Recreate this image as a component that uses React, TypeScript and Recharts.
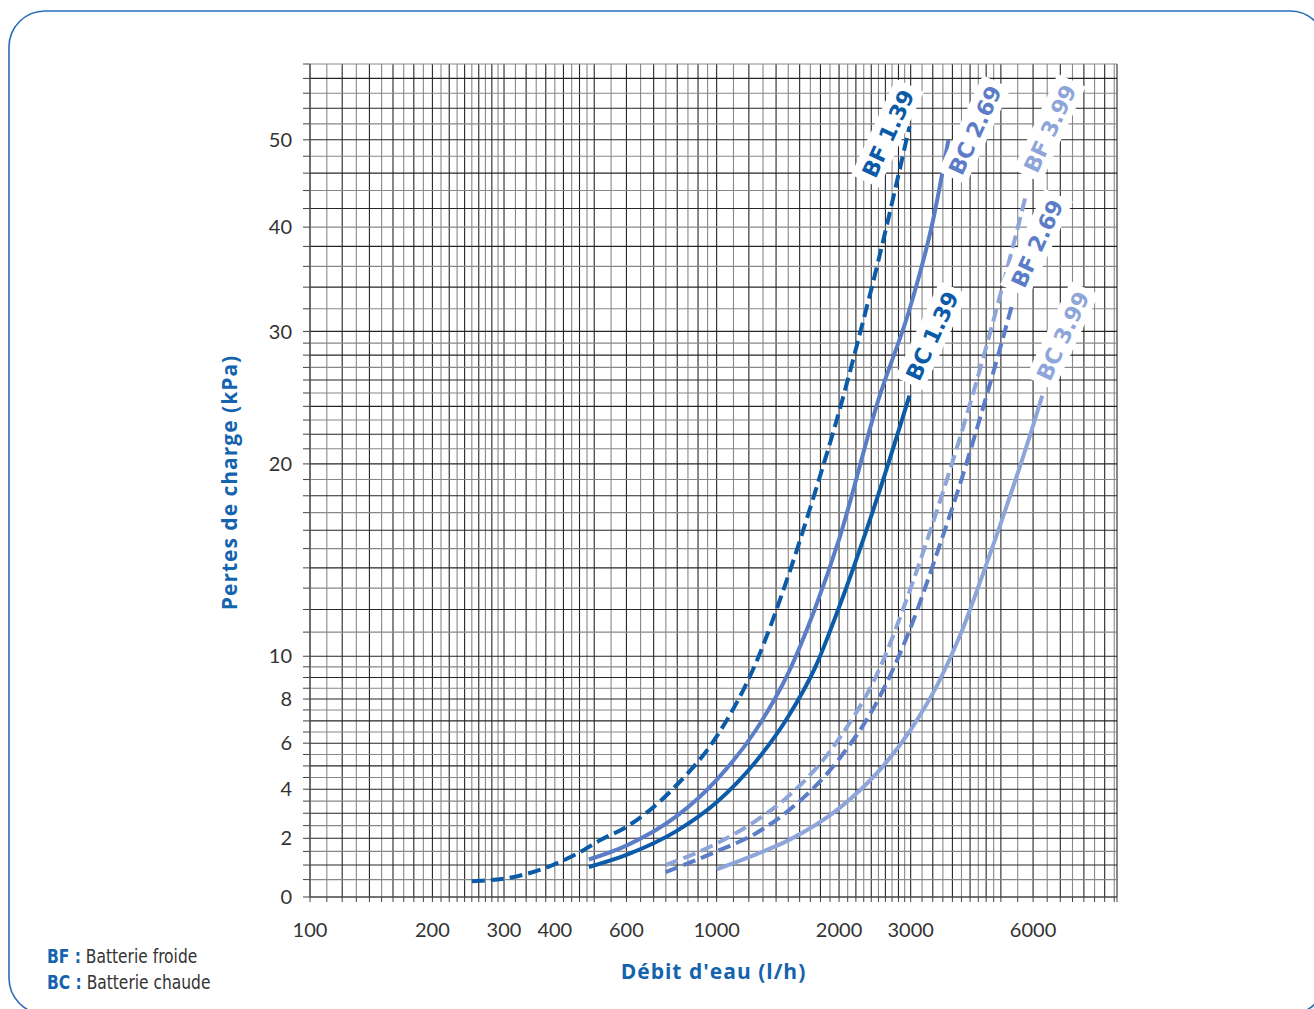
import React from 'react';
import { LineChart, Line, XAxis, YAxis, ReferenceLine, ReferenceDot } from 'recharts';

// Débit d'eau (l/h) / Pertes de charge (kPa)
const bf139Flow = [250, 315, 395, 461, 516, 600, 800, 1000, 1250, 1500, 1750, 2000, 2250, 2500, 2750, 2980];
const bf139Kpa = [0.45, 0.58, 1.0, 1.47, 1.92, 2.45, 4.2, 6.3, 9.7, 13.6, 18.3, 23.6, 29.8, 36.6, 44.2, 51.7];

const bc269Flow = [485, 600, 800, 1000, 1250, 1500, 1750, 2000, 2500, 3000, 3400, 3715];
const bc269Kpa = [1.2, 1.72, 2.9, 4.4, 6.6, 9.2, 12.1, 15.5, 24.5, 32.3, 40.6, 50.0];

const bc139Flow = [485, 600, 800, 1000, 1250, 1500, 1750, 2000, 2500, 2980];
const bc139Kpa = [0.93, 1.37, 2.3, 3.45, 5.2, 7.2, 9.5, 12.1, 18.1, 24.8];

const bf399Flow = [749, 1000, 1250, 1500, 2000, 2500, 3000, 3500, 4000, 4500, 5000, 5400, 5777];
const bf399Kpa = [1.0, 1.8, 2.7, 3.7, 6.2, 9.3, 13.0, 17.3, 22.1, 27.5, 33.5, 38.6, 43.7];

const bf269Flow = [749, 1000, 1250, 1500, 2000, 2500, 3000, 3500, 4000, 4500, 5000, 5340];
const bf269Kpa = [0.75, 1.5, 2.2, 3.1, 5.3, 8.0, 11.2, 14.9, 19.0, 23.7, 28.8, 32.5];

const bc399Flow = [1000, 1250, 1500, 2000, 2500, 3000, 3500, 4000, 4500, 5000, 5500, 6000, 6320];
const bc399Kpa = [0.85, 1.39, 1.92, 3.2, 4.76, 6.6, 8.7, 11.0, 13.6, 16.4, 19.4, 22.6, 24.8];

const xTickLabels = [100, 200, 300, 400, 600, 1000, 2000, 3000, 6000];
const yTickLabels = [0, 2, 4, 6, 8, 10, 20, 30, 40, 50];

// grid subdivisions of the log paper: [from, to, step]
const xGridSteps = [[100, 300, 10], [300, 500, 20], [500, 1000, 50], [1000, 3000, 100], [3000, 5000, 200], [5000, 9500, 500]];
const yGridSteps = [[0, 10, 0.5], [10, 30, 1], [30, 60, 2]];
const X_MIN = 100;
const X_MAX = 9650;
const Y_MAX = 60;

const BLUE = '#1463ae';
const DARK = '#0b5ba8';
const MED = '#5b7dc7';
const LIGHT = '#8ea5da';

// vertical scale of the paper: nearly linear below 10 kPa, power 0.3 above
const P10 = Math.pow(10, 0.3);
const T = (v: number) => (v <= 10 ? Math.pow(v / 10, 0.877) : 1 + 1.7322 * (Math.pow(v, 0.3) - P10));
const invT = (t: number) => (t <= 1 ? 10 * Math.pow(Math.max(t, 0), 1 / 0.877) : Math.pow((t - 1) / 1.7322 + P10, 1 / 0.3));

function expand(steps: number[][]) {
  const out: number[] = [];
  steps.forEach(([a, b, s]) => {
    for (let v = a; v < b - 1e-9; v += s) out.push(Math.round(v * 100) / 100);
  });
  out.push(steps[steps.length - 1][1]);
  return out;
}

const xGrid = [...expand(xGridSteps), X_MAX];
const yGrid = expand(yGridSteps);

const series = [
  { name: 'BF 1.39', flow: bf139Flow, kpa: bf139Kpa, color: DARK, dash: '13 6', dx: -22, dy: 7 },
  { name: 'BC 2.69', flow: bc269Flow, kpa: bc269Kpa, color: MED, dash: undefined, dx: 26, dy: -10 },
  { name: 'BC 1.39', flow: bc139Flow, kpa: bc139Kpa, color: DARK, dash: undefined, dx: 22, dy: -60 },
  { name: 'BF 3.99', flow: bf399Flow, kpa: bf399Kpa, color: LIGHT, dash: '13 6', dx: 23, dy: -65 },
  { name: 'BF 2.69', flow: bf269Flow, kpa: bf269Kpa, color: MED, dash: '13 6', dx: 24, dy: -60 },
  { name: 'BC 3.99', flow: bc399Flow, kpa: bc399Kpa, color: LIGHT, dash: undefined, dx: 20, dy: -60 },
];

const tickFont = "Lato, 'Open Sans', sans-serif";
const titleFont = "'Open Sans', Lato, sans-serif";

const fmtX = (v: number) => (xTickLabels.includes(v) ? String(v) : '');
const fmtY = (t: number) => {
  const r = Math.round(invT(t) * 100) / 100;
  return yTickLabels.includes(r) ? String(r) : '';
};

const CurveLabel = (props: any) => {
  const { cx, cy, text, color, dx, dy } = props;
  if (cx == null || cy == null) return null;
  const w = 106;
  const h = 31;
  return (
    <g transform={`translate(${cx + dx},${cy + dy}) rotate(-65)`}>
      <rect x={-w / 2} y={-h / 2} width={w} height={h} fill="#ffffff" />
      <text
        x={0}
        y={1}
        textAnchor="middle"
        dominantBaseline="central"
        fill={color}
        fontSize={22}
        fontWeight={700}
        fontFamily="'DejaVu Sans', sans-serif"
      >
        {text}
      </text>
    </g>
  );
};

export default function App() {
  return (
    <div style={{ position: 'fixed', left: 0, top: 0, width: 1314, height: 1009, overflow: 'hidden', background: '#fff' }}>
      <svg width={1314} height={1009} style={{ position: 'absolute', left: 0, top: 0 }}>
        <rect x={9} y={11} width={1317} height={1003} rx={36} ry={36} fill="none" stroke="#2a6db5" strokeWidth={1.6} />
      </svg>
      <div style={{ position: 'absolute', left: 0, top: 0 }}>
        <LineChart width={1314} height={1009} margin={{ top: 64, right: 197, bottom: 82, left: 250 }}>
          <XAxis
            dataKey="q"
            type="number"
            scale="log"
            domain={[X_MIN, X_MAX]}
            allowDataOverflow
            ticks={xGrid}
            interval={0}
            tickFormatter={fmtX}
            height={30}
            tickSize={5}
            tickMargin={21}
            tickLine={{ stroke: '#444' }}
            axisLine={{ stroke: '#555' }}
            tick={{ fill: '#333', fontSize: 20, fontFamily: tickFont }}
            label={{
              value: "Débit d'eau (l/h)",
              content: (p: any) => {
                const vb = p.viewBox || {};
                return (
                  <text
                    x={vb.x + vb.width / 2}
                    y={979}
                    textAnchor="middle"
                    fill={BLUE}
                    fontSize={21}
                    fontWeight={700}
                    letterSpacing={1}
                    fontFamily={titleFont}
                  >
                    Débit d'eau (l/h)
                  </text>
                );
              },
            }}
          />
          <YAxis
            dataKey="t"
            type="number"
            domain={[0, T(Y_MAX)]}
            allowDataOverflow
            ticks={yGrid.map(T)}
            interval={0}
            tickFormatter={fmtY}
            width={60}
            tickSize={7}
            tickMargin={11}
            tickLine={{ stroke: '#444' }}
            axisLine={{ stroke: '#555' }}
            tick={{ fill: '#333', fontSize: 20, fontFamily: tickFont }}
            label={{
              value: 'Pertes de charge (kPa)',
              content: (p: any) => {
                const vb = p.viewBox || {};
                const cy = vb.y + vb.height / 2;
                return (
                  <text
                    transform={`translate(237,${cy + 2}) rotate(-90)`}
                    textAnchor="middle"
                    fill={BLUE}
                    fontSize={21}
                    fontWeight={700}
                    letterSpacing={1}
                    fontFamily={titleFont}
                  >
                    Pertes de charge (kPa)
                  </text>
                );
              },
            }}
          />
          {xGrid.map((v, i) => (
            <ReferenceLine
              key={'gx' + v}
              x={v}
              stroke={i % 2 === 0 ? '#262626' : '#888888'}
              strokeWidth={1.1}
              zIndex={-50}
            />
          ))}
          {yGrid.map((v, i) => (
            <ReferenceLine
              key={'gy' + v}
              y={T(v)}
              stroke={i % 2 === 0 ? '#262626' : '#888888'}
              strokeWidth={1.1}
              zIndex={-50}
            />
          ))}
          {series.map((s) => (
            <Line
              key={s.name}
              data={s.flow.map((q, i) => ({ q, t: T(s.kpa[i]), kpa: s.kpa[i] }))}
              dataKey="t"
              type="monotone"
              stroke={s.color}
              strokeWidth={4}
              strokeDasharray={s.dash}
              dot={false}
              activeDot={false}
              isAnimationActive={false}
            />
          ))}
          {series.map((s) => (
            <ReferenceDot
              key={'lab' + s.name}
              x={s.flow[s.flow.length - 1]}
              y={T(s.kpa[s.kpa.length - 1])}
              r={1}
              zIndex={2000}
              shape={(p: any) => <CurveLabel {...p} text={s.name} color={s.color} dx={s.dx} dy={s.dy} />}
            />
          ))}
        </LineChart>
      </div>
      <div
        style={{
          position: 'absolute',
          left: 47,
          top: 943,
          fontFamily: "'Liberation Sans Narrow', 'DejaVu Sans Condensed', 'Roboto', sans-serif",
          fontSize: 20,
          lineHeight: '26px',
          color: '#333',
          whiteSpace: 'nowrap',
          transform: 'scaleX(0.86)',
          transformOrigin: 'left top',
        }}
      >
        <div>
          <span style={{ color: BLUE, fontWeight: 700 }}>BF :</span> Batterie froide
        </div>
        <div>
          <span style={{ color: BLUE, fontWeight: 700 }}>BC :</span> Batterie chaude
        </div>
      </div>
    </div>
  );
}
